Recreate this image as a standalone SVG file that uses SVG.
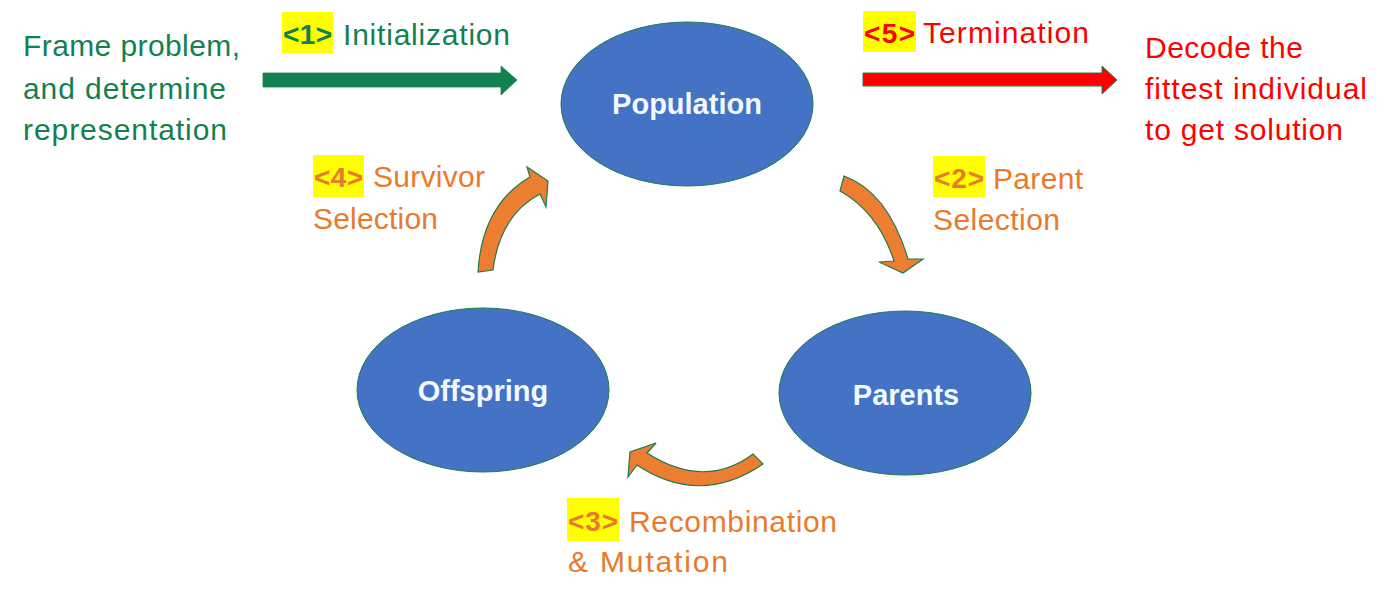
<svg xmlns="http://www.w3.org/2000/svg" width="1400" height="603" viewBox="0 0 1400 603">
<style>
text{font-family:"Liberation Sans",Arial,sans-serif;font-size:30px}
.g{fill:#138050}
.o{fill:#E97A2C}
.r{fill:#FF0000}
.b{font-weight:bold;font-size:28px}
.hl{fill:#FFFF00}
.node{fill:#4472C4;stroke:#1E7B4C;stroke-width:1}
.nl{fill:#F2F8FF;font-weight:bold;font-size:29px;text-anchor:middle}
.ca{fill:#ED7D31;stroke:#1E7B4C;stroke-width:1.2;stroke-linejoin:miter}
</style>
<rect width="1400" height="603" fill="#FFFFFF"/>
<g id="start-text">
<text class="g" x="23" y="56" textLength="217">Frame problem,</text>
<text class="g" x="23" y="99" textLength="203">and determine</text>
<text class="g" x="23" y="140" textLength="204">representation</text>
</g>
<g id="end-text">
<text class="r" x="1145" y="58" textLength="158">Decode the</text>
<text class="r" x="1145" y="99" textLength="222">fittest individual</text>
<text class="r" x="1145" y="140" textLength="198">to get solution</text>
</g>
<g id="population">
<ellipse class="node" cx="687" cy="104" rx="126" ry="82"/>
<text class="nl" x="687" y="114">Population</text>
</g>
<g id="parents">
<ellipse class="node" cx="905" cy="393" rx="126" ry="82"/>
<text class="nl" x="906" y="405">Parents</text>
</g>
<g id="offspring">
<ellipse class="node" cx="483" cy="390" rx="126" ry="82"/>
<text class="nl" x="483" y="401">Offspring</text>
</g>
<g id="connectors">
<g id="c1">
<path d="M263 73 L501 73 L501 66 L517 80 L501 95 L501 87 L263 87 Z" fill="#138050" stroke="#138050" stroke-width="0.8"/>
<rect class="hl" x="282" y="12" width="51" height="41"/>
<text class="g b" x="283" y="44" textLength="49">&lt;1&gt;</text>
<text class="g" x="343" y="45" textLength="167">Initialization</text>
</g>
<g id="c2">
<path class="ca" d="M844 176 Q888 192 908 259 L923 259 L903 273 L879 262 L894 261 Q878 212 840 191 Z"/>
<rect class="hl" x="933" y="156" width="52" height="41"/>
<text class="o b" x="934" y="188" textLength="50">&lt;2&gt;</text>
<text class="o" x="993" y="189" textLength="90">Parent</text>
<text class="o" x="933" y="230" textLength="127">Selection</text>
</g>
<g id="c3">
<path class="ca" d="M753 454 Q705 490 647 453 L656 443 L630 452 L628 477 L637 465 Q700 507 763 464 Z"/>
<rect class="hl" x="567" y="498" width="52" height="43"/>
<text class="o b" x="568" y="531" textLength="50">&lt;3&gt;</text>
<text class="o" x="629" y="532" textLength="208">Recombination</text>
<text class="o" x="568" y="572" textLength="160">&amp; Mutation</text>
</g>
<g id="c4">
<path class="ca" d="M478 272 Q482 205 530 177 L527 167 L548 181 L546 207 L540 194 Q500 215 493 270 Z"/>
<rect class="hl" x="313" y="155" width="51" height="42"/>
<text class="o b" x="314" y="187" textLength="49">&lt;4&gt;</text>
<text class="o" x="373" y="187" textLength="112">Survivor</text>
<text class="o" x="313" y="229" textLength="125">Selection</text>
</g>
<g id="c5">
<path d="M863 73 L1102 73 L1102 66 L1117 80 L1102 94 L1102 86 L863 86 Z" fill="#FF0000" stroke="#1E7B4C" stroke-width="1"/>
<rect class="hl" x="863" y="11" width="53" height="41"/>
<text class="r b" x="864" y="43" textLength="51">&lt;5&gt;</text>
<text class="r" x="923" y="43" textLength="166">Termination</text>
</g>
</g>
</svg>
